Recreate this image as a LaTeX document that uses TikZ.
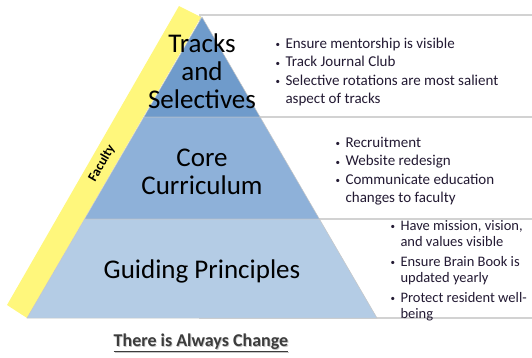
\documentclass[tikz,border=0pt]{standalone}
\usepackage{fontspec}
\setmainfont{Carlito}
\definecolor{tiertop}{HTML}{6F9BCB}
\definecolor{tiermid}{HTML}{8EB1D9}
\definecolor{tierbase}{HTML}{B4CCE5}
\definecolor{bandyellow}{HTML}{FFF77C}
\definecolor{panelline}{HTML}{D2D2D2}
\definecolor{listtext}{HTML}{231A33}
\definecolor{titlegray}{HTML}{3C3C3C}
\newcommand{\bul}{\makebox[10pt][l]{\raisebox{0.5pt}{\small•}}}
\newcommand{\hang}{\hspace*{10pt}}
\begin{document}
\begin{tikzpicture}[x=1pt,y=-1pt,
  panel/.style={fill=white,draw=panelline,line width=1.6pt},
  tier/.style={draw=gray!45,line width=0.5pt},
  tiertext/.style={font=\fontsize{27}{28}\selectfont,align=center,text=black},
  listbox/.style={anchor=west,align=left,text=listtext},
  listA/.style={listbox,font=\fontsize{15}{18.5}\selectfont},
  listB/.style={listbox,font=\fontsize{14.5}{16.2}\selectfont}]
\useasboundingbox (0,0) rectangle (532,357);

% note panels behind the pyramid
\draw[panel] (200,15) rectangle (545,117);
\draw[panel] (200,117) rectangle (545,219);
\draw[panel] (200,219) rectangle (545,318);

% yellow band along the left flank
\fill[bandyellow] (201,17) -- (27,318) -- (7,305) -- (179,6) -- cycle;

% pyramid tiers
\filldraw[tier,fill=tiertop] (202,17) -- (143.9,117) -- (260.1,117) -- cycle;
\filldraw[tier,fill=tiermid] (143.9,117) -- (84.6,219) -- (319.4,219) -- (260.1,117) -- cycle;
\filldraw[tier,fill=tierbase] (84.6,219) -- (27,318) -- (377,318) -- (319.4,219) -- cycle;

% tier labels
\node[tiertext] (tracks) at (202,71) {Tracks\\and\\Selectives};
\node[tiertext] (core) at (202,172) {Core\\Curriculum};
\node[tiertext] (guiding) at (202,271) {Guiding Principles};

% band label
\node[rotate=60,inner sep=0pt,font=\fontsize{13.5}{13.5}\selectfont\bfseries] (faculty) at (102,163) {Faculty};

% bullet lists
\node[listA] (listtop) at (272,72) {\bul Ensure mentorship is visible\\
\bul Track Journal Club\\
\bul Selective rotations are most salient\\
\hang aspect of tracks};
\node[listA] (listmid) at (332,171) {\bul Recruitment\\
\bul Website redesign\\
\bul Communicate education\\
\hang changes to faculty};
\node[listB] (listbase) at (387,270.5) {\bul Have mission, vision,\\
\hang and values visible\\[3.5pt]
\bul Ensure Brain Book is\\
\hang updated yearly\\[3.5pt]
\bul Protect resident well-\\
\hang being};

% caption with a soft drop shadow
\node[font=\fontsize{18}{18}\selectfont\bfseries,text=gray!45] (captionshadow) at (201.8,343.8) {\underline{There is Always Change}};
\node[font=\fontsize{18}{18}\selectfont\bfseries,text=titlegray] (caption) at (201,343) {\underline{There is Always Change}};
\end{tikzpicture}
\end{document}
